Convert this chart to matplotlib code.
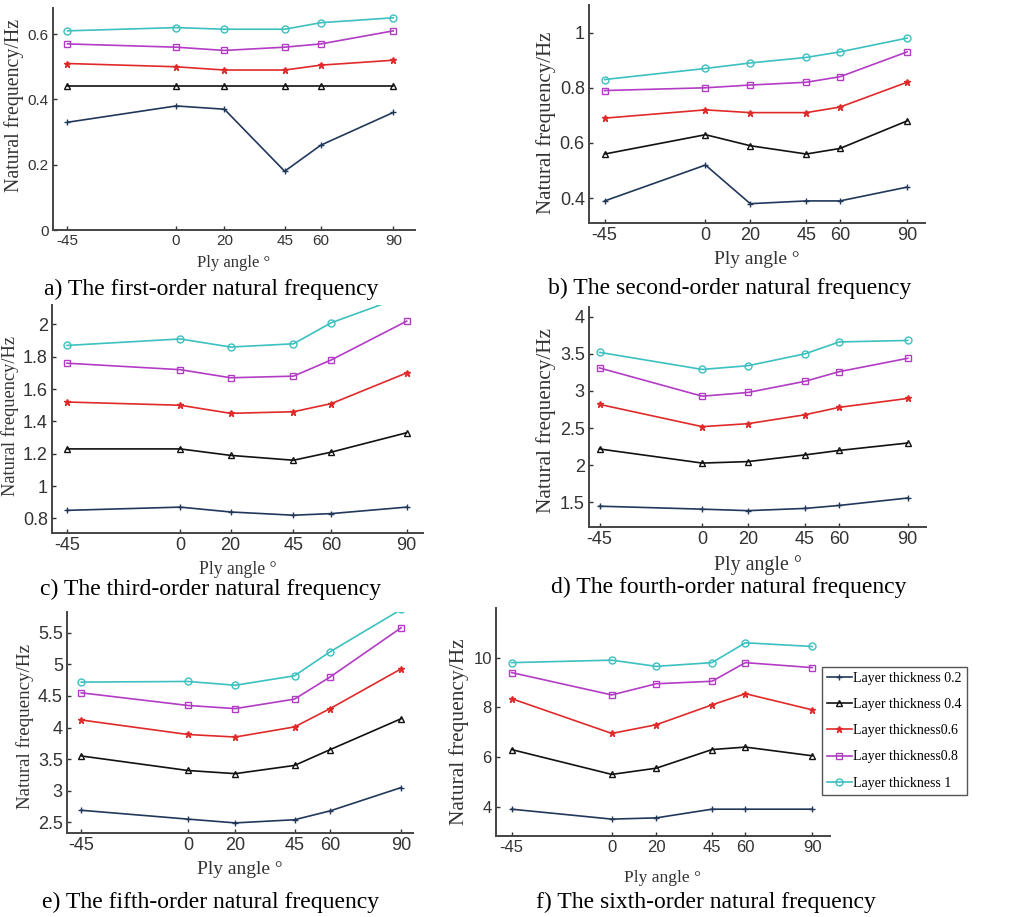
import matplotlib
matplotlib.use("Agg")
import matplotlib.pyplot as plt

angles = [-45, 0, 20, 45, 60, 90]

labels = ["Layer thickness 0.2", "Layer thickness 0.4", "Layer thickness0.6",
          "Layer thickness0.8", "Layer thickness 1"]

# natural frequency per order, one list per layer thickness (0.2, 0.4, 0.6, 0.8, 1)
order1 = [
    [0.33, 0.38, 0.37, 0.18, 0.26, 0.36],
    [0.44, 0.44, 0.44, 0.44, 0.44, 0.44],
    [0.51, 0.50, 0.49, 0.49, 0.505, 0.52],
    [0.57, 0.56, 0.55, 0.56, 0.57, 0.61],
    [0.61, 0.62, 0.615, 0.615, 0.635, 0.65],
]
order2 = [
    [0.39, 0.52, 0.38, 0.39, 0.39, 0.44],
    [0.56, 0.63, 0.59, 0.56, 0.58, 0.68],
    [0.69, 0.72, 0.71, 0.71, 0.73, 0.82],
    [0.79, 0.80, 0.81, 0.82, 0.84, 0.93],
    [0.83, 0.87, 0.89, 0.91, 0.93, 0.98],
]
order3 = [
    [0.85, 0.87, 0.84, 0.82, 0.83, 0.87],
    [1.23, 1.23, 1.19, 1.16, 1.21, 1.33],
    [1.52, 1.50, 1.45, 1.46, 1.51, 1.70],
    [1.76, 1.72, 1.67, 1.68, 1.78, 2.02],
    [1.87, 1.91, 1.86, 1.88, 2.01, 2.18],
]
order4 = [
    [1.45, 1.41, 1.39, 1.42, 1.46, 1.56],
    [2.22, 2.03, 2.05, 2.14, 2.20, 2.30],
    [2.82, 2.52, 2.56, 2.68, 2.78, 2.90],
    [3.31, 2.93, 2.98, 3.13, 3.26, 3.44],
    [3.52, 3.29, 3.34, 3.50, 3.66, 3.68],
]
order5 = [
    [2.69, 2.55, 2.49, 2.54, 2.68, 3.05],
    [3.55, 3.32, 3.27, 3.40, 3.65, 4.14],
    [4.12, 3.89, 3.85, 4.01, 4.30, 4.93],
    [4.55, 4.35, 4.30, 4.45, 4.80, 5.58],
    [4.72, 4.73, 4.67, 4.82, 5.20, 5.87],
]
order6 = [
    [3.9, 3.5, 3.55, 3.9, 3.9, 3.9],
    [6.3, 5.3, 5.55, 6.3, 6.4, 6.05],
    [8.35, 6.95, 7.3, 8.1, 8.55, 7.9],
    [9.4, 8.5, 8.95, 9.05, 9.8, 9.6],
    [9.8, 9.9, 9.65, 9.8, 10.6, 10.45],
]

captions = ["a) The first-order natural frequency", "b) The second-order natural frequency",
            "c) The third-order natural frequency", "d) The fourth-order natural frequency",
            "e) The fifth-order natural frequency", "f) The sixth-order natural frequency"]

colors = ["#22385a", "#111111", "#e02a2a", "#b23cc4", "#3cc0c0"]
markers = ["+", "^", "*", "s", "o"]
fills = ["full", "none", "full", "none", "none"]

W, H = 1009, 917
fig = plt.figure(figsize=(W / 100, H / 100), dpi=100)

serif = "Liberation Serif"
sans = "Liberation Sans"

# pixel boxes: left, right, top, bottom
panels = [
    dict(data=order1, box=(53, 415, 8, 230), xlim=(-51, 99), ylim=(0, 0.68),
         yticks=[0, 0.2, 0.4, 0.6], tfs=11, lfs=14.3, ly=0.559, xfs=12, xpad=5, cap=(211, 289)),
    dict(data=order2, box=(589, 925, 5, 223), xlim=(-52, 98), ylim=(0.31, 1.10),
         yticks=[0.4, 0.6, 0.8, 1], tfs=13, lfs=15, ly=0.459, xfs=14, xpad=5, cap=(730, 288)),
    dict(data=order3, box=(52, 423, 305, 533), xlim=(-51, 96.5), ylim=(0.71, 2.12),
         yticks=[0.8, 1, 1.2, 1.4, 1.6, 1.8, 2], tfs=13, lfs=13.2, ly=0.513, xfs=12.7, xpad=5,
         cap=(211, 589)),
    dict(data=order4, box=(589, 926, 307, 527), xlim=(-49.6, 98), ylim=(1.17, 4.13),
         yticks=[1.5, 2, 2.5, 3, 3.5, 4], tfs=13, lfs=15.3, ly=0.486, xfs=14.3, xpad=5,
         cap=(729, 587)),
    dict(data=order5, box=(67, 413, 612, 833), xlim=(-51, 95), ylim=(2.33, 5.83),
         yticks=[2.5, 3, 3.5, 4, 4.5, 5, 5.5], tfs=13, lfs=13.7, ly=0.484, xfs=14, xpad=5,
         cap=(211, 902)),
    dict(data=order6, box=(496, 830, 608, 836), xlim=(-52, 98), ylim=(2.82, 12.0),
         yticks=[4, 6, 8, 10], tfs=12, lfs=15.5, ly=0.456, xfs=12.5, xpad=11, cap=(706, 902)),
]

axes = []
for i, p in enumerate(panels):
    l, r, t, b = p["box"]
    ax = fig.add_axes([l / W, 1 - b / H, (r - l) / W, (b - t) / H])
    for k in range(5):
        ax.plot(angles, p["data"][k], color=colors[k], marker=markers[k],
                fillstyle=fills[k], markersize=5, linewidth=1.2,
                markeredgewidth=1.0, label=labels[k], clip_on=True)
    ax.set_xlim(p["xlim"])
    ax.set_ylim(p["ylim"])
    ax.set_xticks(angles)
    ax.set_xticklabels([str(a) for a in angles], fontfamily=sans, fontsize=p["tfs"])
    ax.set_yticks(p["yticks"])
    ax.set_yticklabels([f"{v:g}" for v in p["yticks"]], fontfamily=sans, fontsize=p["tfs"])
    ax.tick_params(direction="in", length=3, width=1, colors="#333333", pad=3)
    for s in ["top", "right"]:
        ax.spines[s].set_visible(False)
    for s in ["left", "bottom"]:
        ax.spines[s].set_color("#444444")
        ax.spines[s].set_linewidth(1.4)
    ax.set_xlabel("Ply angle °", fontfamily=serif, fontsize=p["xfs"], color="#333333",
                  labelpad=p["xpad"])
    ax.set_ylabel("Natural frequency/Hz", fontfamily=serif, fontsize=p["lfs"], color="#333333",
                  labelpad=3)
    ax.yaxis.label.set_y(p["ly"])
    cx, cy = p["cap"]
    fig.text(cx / W, 1 - cy / H, captions[i], ha="center", va="center",
             fontfamily=serif, fontsize=17)
    axes.append(ax)

leg = axes[5].legend(loc="upper left", bbox_to_anchor=(822 / W, 1 - 667 / H),
                     bbox_transform=fig.transFigure, prop={"family": serif, "size": 10},
                     fancybox=False, edgecolor="#555555", framealpha=1, borderaxespad=0,
                     handlelength=1.8, handletextpad=0.1, borderpad=0.35, labelspacing=0.95)
leg.get_frame().set_linewidth(1.0)

fig.savefig("out.png", dpi=100)
